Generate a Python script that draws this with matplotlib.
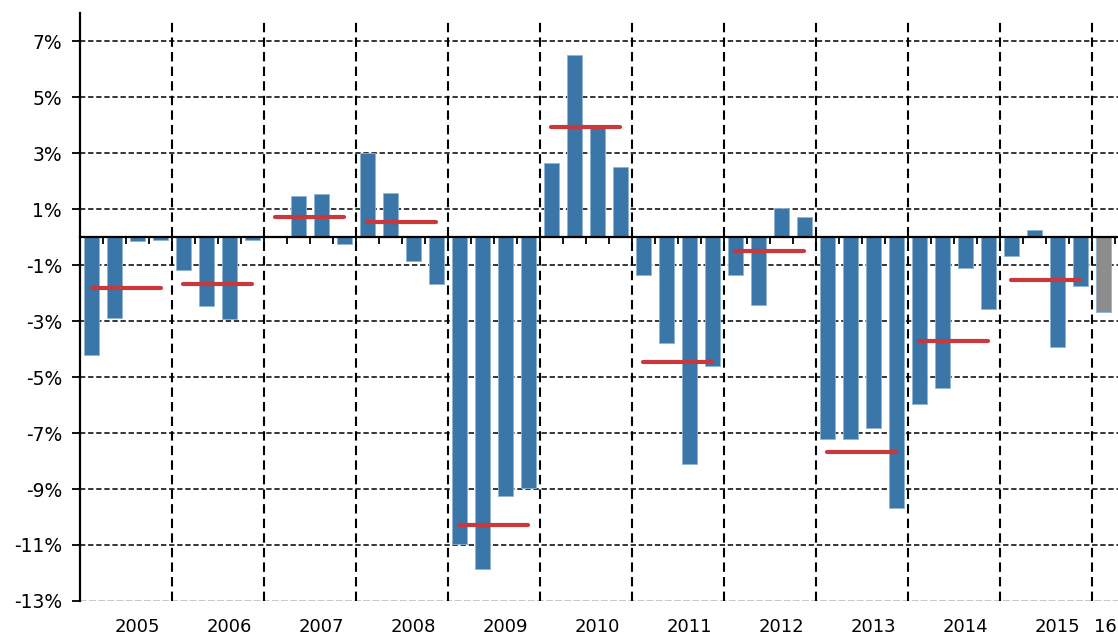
import numpy as np
import matplotlib
matplotlib.use("Agg")
import matplotlib.pyplot as plt
from matplotlib.transforms import blended_transform_factory

# quarterly changes, %, 2005Q1 .. 2016Q1
quarterly = [
    -4.2, -2.9, -0.15, -0.1,     # 2005
    -1.19, -2.48, -2.92, -0.1,   # 2006
    0.0, 1.46, 1.53, -0.24,      # 2007
    2.99, 1.59, -0.86, -1.68,    # 2008
    -10.97, -11.86, -9.26, -8.98,  # 2009
    2.63, 6.51, 3.94, 2.49,      # 2010
    -1.34, -3.79, -8.1, -4.62,   # 2011
    -1.34, -2.42, 1.05, 0.71,    # 2012
    -7.2, -7.2, -6.81, -9.68,    # 2013
    -5.97, -5.38, -1.11, -2.57,  # 2014
    -0.66, 0.24, -3.92, -1.76,   # 2015
    -2.66,                       # 2016Q1
]
annual_avg = [-1.81, -1.68, 0.72, 0.52, -10.29, 3.93, -4.48, -0.51, -7.69, -3.73, -1.55]
year_labels = ['2005', '2006', '2007', '2008', '2009', '2010', '2011', '2012',
               '2013', '2014', '2015', '16']
yticks = [7, 5, 3, 1, -1, -3, -5, -7, -9, -11, -13]

blue = '#3a76a8'
gray = '#8c8c8c'
red = '#c9383a'

fig = plt.figure(figsize=(11.18, 6.39), dpi=100)
ax = fig.add_axes([0.0716, 0.0595, 0.9284, 0.920])

n = len(quarterly)
x = np.arange(n) + 0.5
colors = [blue] * (n - 1) + [gray]
ax.bar(x, quarterly, width=0.65, color=colors, edgecolor='#8fb3d3',
       linewidth=0.6, zorder=3)

# annual averages
for i, v in enumerate(annual_avg):
    ax.plot([4 * i + 0.5, 4 * i + 3.5], [v, v], color=red, lw=3,
            solid_capstyle='round', zorder=4)

ax.set_xlim(0, 45.15)
ax.set_ylim(-13, 8)

# horizontal grid
for t in yticks[:-1]:
    ax.axhline(t, color='black', lw=1.1, ls=(0, (3.5, 1.8)), zorder=1)
ax.axhline(-13, color='#c8c8c8', lw=1.4, ls=(0, (3.5, 1.2)), zorder=1)

# year separators
ax.vlines(np.arange(4, n, 4), -13, 7.7, color='black', lw=1.5,
          linestyles=(0, (4.5, 2.5)), zorder=2)

# zero line acts as x axis with quarter ticks
for s in ['top', 'right']:
    ax.spines[s].set_visible(False)
ax.spines['bottom'].set_position(('data', 0))
ax.spines['bottom'].set_linewidth(1.6)
ax.spines['bottom'].set_zorder(5)
ax.spines['left'].set_linewidth(1.6)
ax.set_xticks(np.arange(1, n + 1))
ax.tick_params(axis='x', direction='out', length=5, width=1.3, labelbottom=False)

ax.set_yticks(yticks)
ax.set_yticklabels([f'{t}%' for t in yticks], fontsize=13.5)
ax.tick_params(axis='y', direction='out', length=6, width=1.3, pad=7)

tr = blended_transform_factory(ax.transData, ax.transAxes)
for i, lab in enumerate(year_labels):
    xpos = 4 * i + 2.5 if lab != '16' else 44.6
    ax.text(xpos, -0.045, lab, transform=tr, ha='center', va='center', fontsize=13)

fig.savefig('out.png', dpi=100)
